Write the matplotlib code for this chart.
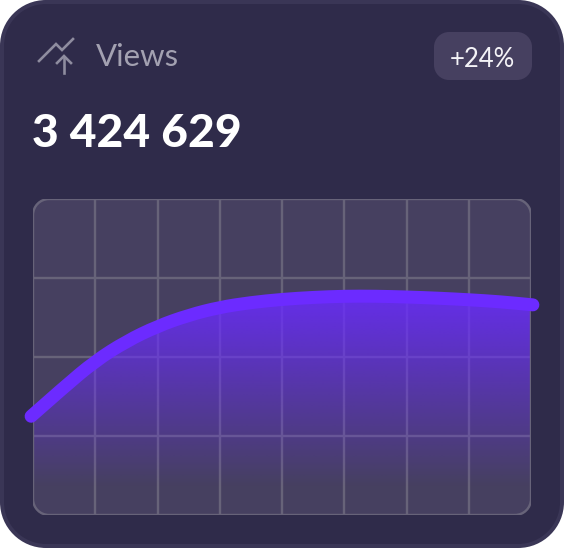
import numpy as np
import matplotlib
matplotlib.use("Agg")
import matplotlib.pyplot as plt
from matplotlib.patches import PathPatch
from matplotlib.path import Path

TITLE = "Views"
TOTAL = "3 424 629"
BADGE = "+24%"
# line values in grid cells (8 wide, 4 high), read at half-cell steps
x_vals = [-0.03, 0.5, 1, 1.5, 2, 2.5, 3, 3.5, 4, 4.5, 5, 5.5, 6, 6.5, 7, 7.5, 8.03]
y_vals = [1.25, 1.62, 1.95, 2.20, 2.39, 2.53, 2.63, 2.69, 2.73, 2.755, 2.77, 2.77, 2.76, 2.745, 2.725, 2.70, 2.66]

W, H = 564, 548
fig = plt.figure(figsize=(W / 100, H / 100), dpi=100, facecolor="white")
px = 0.72  # points per pixel


def round_rect(x0, y0, x1, y1, r):
    """Rounded rectangle path with true circular corners (y grows downward)."""
    k = r * (1 - 0.5523)
    v = [(x0 + r, y0), (x1 - r, y0),
         (x1 - k, y0), (x1, y0 + k), (x1, y0 + r), (x1, y1 - r),
         (x1, y1 - k), (x1 - k, y1), (x1 - r, y1), (x0 + r, y1),
         (x0 + k, y1), (x0, y1 - k), (x0, y1 - r), (x0, y0 + r),
         (x0, y0 + k), (x0 + k, y0), (x0 + r, y0), (x0 + r, y0)]
    c = [Path.MOVETO, Path.LINETO,
         Path.CURVE4, Path.CURVE4, Path.CURVE4, Path.LINETO,
         Path.CURVE4, Path.CURVE4, Path.CURVE4, Path.LINETO,
         Path.CURVE4, Path.CURVE4, Path.CURVE4, Path.LINETO,
         Path.CURVE4, Path.CURVE4, Path.CURVE4, Path.CLOSEPOLY]
    return Path(v, c)


# page layer in pixel coordinates
bg = fig.add_axes([0, 0, 1, 1])
bg.set_xlim(0, W); bg.set_ylim(H, 0); bg.axis("off")
bg.add_patch(PathPatch(round_rect(2, 2, W - 2, H - 2, 44), fc="#2f2b4a", ec="#3a3656", lw=4 * px))
bg.add_patch(PathPatch(round_rect(434, 32, 532, 80, 15), fc="#464060", ec="none"))
icon = "#8f8d9f"
bg.plot([39, 56, 62, 73], [61, 44, 50, 39], color=icon, lw=2.6 * px, solid_joinstyle="miter")
bg.plot([64, 64], [73, 57], color=icon, lw=2.6 * px)
bg.plot([57, 64, 71], [63, 56, 63], color=icon, lw=2.6 * px, solid_joinstyle="miter")
bg.text(96, 55, TITLE, color="#a3a1b1", fontsize=22.4, family="Lato", va="center_baseline", ha="left")
bg.text(32, 130, TOTAL, color="white", fontsize=33.2, family="Lato", weight="black",
        va="center_baseline", ha="left")
bg.text(482, 57, BADGE, color="#f4f3f7", fontsize=18.5, family="Lato", va="center_baseline", ha="center")

# chart
L, R, T, B = 33, 531, 199, 515
ax = fig.add_axes([L / W, 1 - B / H, (R - L) / W, (B - T) / H])
ax.set_xlim(0, 8); ax.set_ylim(0, 4)
ax.patch.set_alpha(0)
for s in ax.spines.values():
    s.set_visible(False)
ax.tick_params(left=False, bottom=False, labelleft=False, labelbottom=False)

box = round_rect(L, T, R, B, 16)
ax.add_patch(PathPatch(box, fc="#464060", ec="none", transform=bg.transData, zorder=0))
clip = PathPatch(box, fc="none", ec="none", transform=bg.transData)
ax.add_patch(clip)

grid_c = "#676379"
for v in range(1, 8):
    ax.axvline(v, color=grid_c, lw=2.4 * px, zorder=1).set_clip_path(clip)
for v in range(1, 4):
    ax.axhline(v, color=grid_c, lw=2.4 * px, zorder=1).set_clip_path(clip)

# smooth path through the read values
xs, ys = np.array(x_vals), np.array(y_vals)
verts = [(xs[0], ys[0])]
codes = [Path.MOVETO]
for i in range(1, len(xs) - 1):
    verts += [(xs[i], ys[i]), ((xs[i] + xs[i + 1]) / 2, (ys[i] + ys[i + 1]) / 2)]
    codes += [Path.CURVE3, Path.CURVE3]
verts.append((xs[-1], ys[-1]))
codes.append(Path.LINETO)
curve = Path(verts, codes)

# gradient fill below the curve
n = 256
rgba = np.zeros((n, 1, 4))
rgba[..., :3] = matplotlib.colors.to_rgb("#6a2bff")
rgba[:, 0, 3] = 0.9 * (1 - np.linspace(0, 1, n))
im = ax.imshow(rgba, extent=(0, 8, 0.35, 2.85), aspect="auto", zorder=2, interpolation="bilinear")
ax.set_xlim(0, 8); ax.set_ylim(0, 4)
fill_path = Path(verts + [(8.03, 0), (-0.03, 0), (xs[0], ys[0])],
                 codes + [Path.LINETO, Path.LINETO, Path.LINETO])
fill_clip = PathPatch(fill_path, transform=ax.transData, fc="none", ec="none")
ax.add_patch(fill_clip)
im.set_clip_path(fill_clip)

# frame on top of grid and fill
ax.add_patch(PathPatch(box, fc="none", ec=grid_c, lw=2.4 * px, transform=bg.transData, zorder=3))
# curve
ax.add_patch(PathPatch(curve, fc="none", ec="#6c2bff", lw=13 * px, capstyle="round",
                       joinstyle="round", zorder=4, clip_on=False))

fig.savefig("out.png", dpi=100, facecolor="white")
